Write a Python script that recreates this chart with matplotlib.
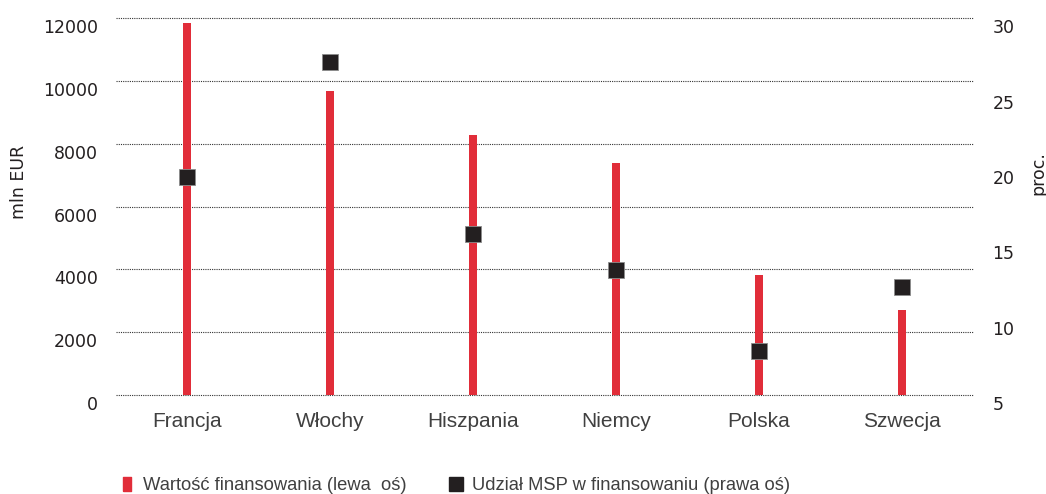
import matplotlib
matplotlib.use('Agg')
import matplotlib.pyplot as plt
import matplotlib.transforms as mtransforms
from matplotlib.lines import Line2D

countries = ['Francja', 'Włochy', 'Hiszpania', 'Niemcy', 'Polska', 'Szwecja']
funding_mln_eur = [11850, 9700, 8300, 7400, 3820, 2700]
sme_share_pct = [19.5, 27.1, 15.7, 13.3, 7.9, 12.2]

left_ticks = [0, 2000, 4000, 6000, 8000, 10000, 12000]
right_ticks = [5, 10, 15, 20, 25, 30]

RED = '#e12d39'
DARK = '#231f20'
GREY_TXT = '#404040'

plt.rcParams['font.family'] = ['DejaVu Sans']

fig = plt.figure(figsize=(10.46, 4.94), dpi=100)
ax = fig.add_axes([0.1109, 0.2004, 0.8193, 0.7622])
ax2 = ax.twinx()

x = list(range(len(countries)))
ax.bar(x, funding_mln_eur, width=0.056, color=RED, zorder=3)
ax2.plot(x, sme_share_pct, linestyle='none', marker='s', markersize=12.2,
         markerfacecolor=DARK, markeredgecolor='#8c8c8c', markeredgewidth=0.6, zorder=4)

ax.set_xlim(-0.5, len(countries) - 0.5)
ax.set_ylim(0, 12000)
ax2.set_ylim(5, 30)
ax.set_yticks(left_ticks)
ax2.set_yticks(right_ticks)
ax.set_xticks(x)
ax.set_xticklabels(countries, fontsize=15, color=GREY_TXT, fontfamily='Liberation Sans')

for a in (ax, ax2):
    for s in a.spines.values():
        s.set_visible(False)
    a.tick_params(axis='both', length=0)

ax.grid(axis='y', linestyle=(0, (1, 1)), color='#333333', linewidth=0.8, zorder=0)
for gl in ax.get_ygridlines():
    gl.set_clip_on(False)
ax.tick_params(axis='x', pad=12)
ax.tick_params(axis='y', pad=13, labelsize=12.5, labelcolor=DARK)
ax2.tick_params(axis='y', pad=14, labelsize=12.5, labelcolor=DARK)

# numbers sit a little below their gridline
shift = mtransforms.ScaledTranslation(0, -8 / 100, fig.dpi_scale_trans)
for lab in ax.get_yticklabels() + ax2.get_yticklabels():
    lab.set_transform(lab.get_transform() + shift)

ax.set_ylabel('mln EUR', fontsize=12.5, color=DARK)
ax.yaxis.set_label_coords(-0.1027, 0.565)
ax2.set_ylabel('proc.', fontsize=12.5, color=DARK, rotation=90)
ax2.yaxis.set_label_coords(1.066, 0.589)

tall_rect = [(-0.5, -1), (0.5, -1), (0.5, 1), (-0.5, 1), (-0.5, -1)]
handles = [
    Line2D([], [], linestyle='none', marker=tall_rect, markersize=10.5,
           markerfacecolor=RED, markeredgecolor=RED),
    Line2D([], [], linestyle='none', marker='s', markersize=10.5,
           markerfacecolor=DARK, markeredgecolor=DARK),
]
labels = ['Wartość finansowania (lewa  oś)', 'Udział MSP w finansowaniu (prawa oś)']
fig.legend(handles, labels, loc='center left', bbox_to_anchor=(0.1147, 0.0162),
           ncol=2, frameon=False, borderpad=0, borderaxespad=0,
           handlelength=0.8, handletextpad=0.45, columnspacing=2.3,
           prop={'family': 'Liberation Sans', 'size': 13.2},
           labelcolor=GREY_TXT)

fig.savefig('out.png', dpi=100)
